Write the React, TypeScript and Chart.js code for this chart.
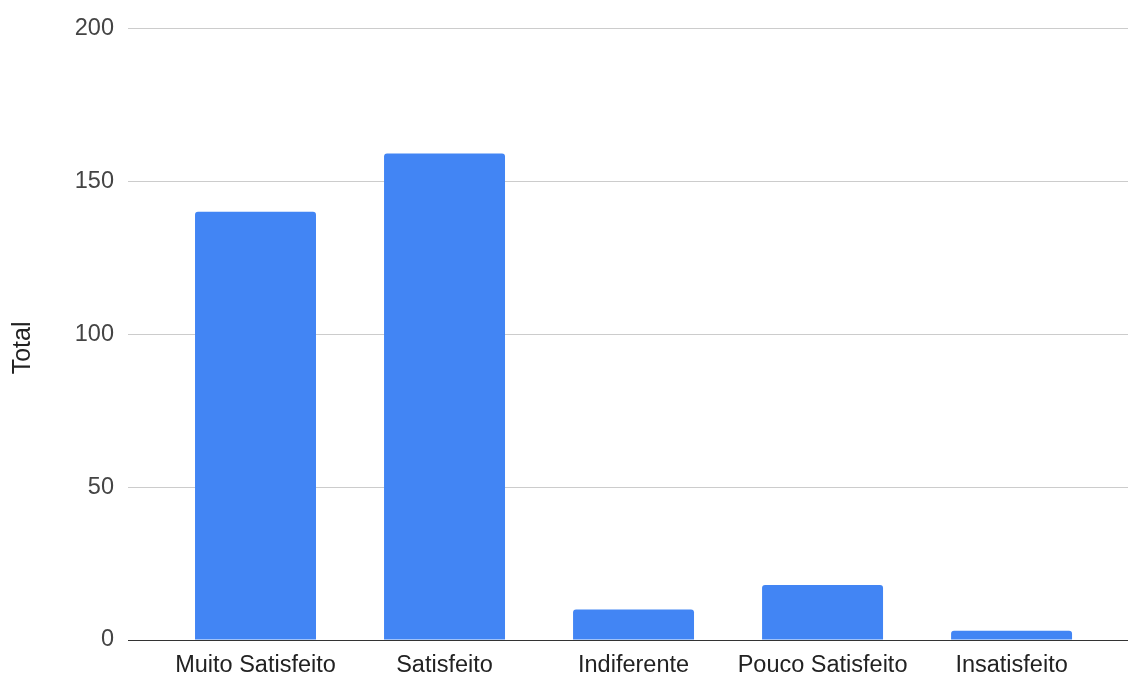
import { useEffect, useRef } from "react";
import { Chart, registerables } from "chart.js";

Chart.register(...registerables);

const categories = ["Muito Satisfeito", "Satisfeito", "Indiferente", "Pouco Satisfeito", "Insatisfeito"];
const totals = [140, 159, 10, 18, 3];
const yTicks = [0, 50, 100, 150, 200];
const yTitle = "Total";

const FONT = "'Liberation Sans', Arial, sans-serif";

export default function App() {
  const ref = useRef<HTMLCanvasElement>(null);

  useEffect(() => {
    const canvas = ref.current;
    if (!canvas) return;
    const chart = new Chart(canvas, {
      type: "bar",
      data: {
        datasets: [
          {
            label: yTitle,
            data: totals.map((v, i) => ({ x: i, y: v })) as any,
            backgroundColor: "#4285F4",
            borderRadius: 3,
            borderSkipped: "bottom",
            barPercentage: 0.64,
            categoryPercentage: 1,
          },
        ],
      },
      options: {
        responsive: false,
        animation: false,
        layout: { padding: { top: 25, right: 0, left: 0, bottom: 0 } },
        plugins: { legend: { display: false }, tooltip: { enabled: false } },
        scales: {
          x: {
            type: "linear",
            offset: false,
            min: -0.6746,
            max: 4.616,
            grid: { display: false, offset: false },
            border: { display: false },
            afterBuildTicks: (s: any) => {
              s.ticks = categories.map((_, i) => ({ value: i }));
            },
            afterFit: (s: any) => {
              s.height = 35;
            },
            ticks: {
              autoSkip: false,
              maxRotation: 0,
              minRotation: 0,
              padding: 3,
              color: "#222",
              font: { family: FONT, size: 23.5 },
              callback: (v: any) => categories[v as number] ?? "",
            },
          },
          y: {
            min: 0,
            max: 200,
            afterBuildTicks: (s: any) => {
              s.ticks = yTicks.map((v) => ({ value: v }));
            },
            afterFit: (s: any) => {
              s.width = 128;
            },
            grid: {
              drawTicks: false,
              color: (ctx: any) => (ctx.tick && ctx.tick.value === 0 ? "#333333" : "#cccccc"),
              lineWidth: 1,
            },
            border: { display: false },
            ticks: {
              padding: 14,
              color: "#444",
              font: { family: FONT, size: 23.5 },
            },
            title: {
              display: true,
              text: yTitle + "    ",
              color: "#222",
              font: { family: FONT, size: 25 },
              padding: { top: 8, bottom: 0 },
            },
          },
        },
      },
    });
    return () => chart.destroy();
  }, []);

  return (
    <div style={{ position: "fixed", left: 0, top: 0, width: 1128, height: 675, background: "#fff" }}>
      <canvas ref={ref} width={1128} height={675} style={{ width: 1128, height: 675, display: "block" }} />
    </div>
  );
}
